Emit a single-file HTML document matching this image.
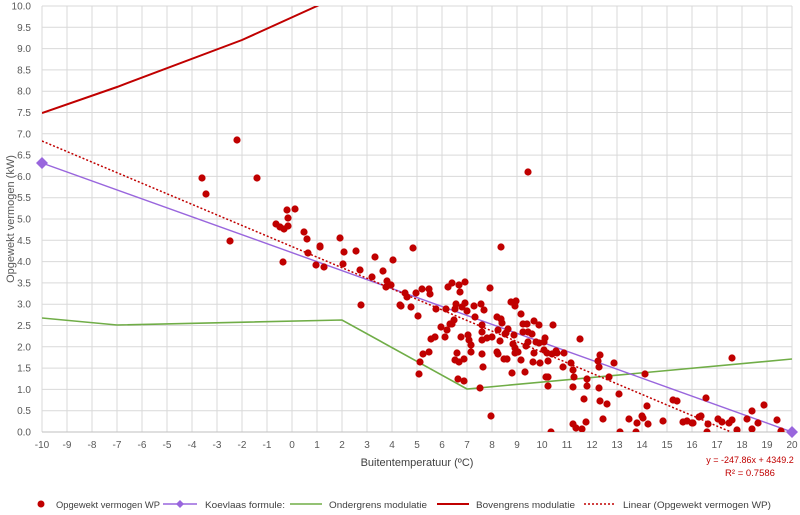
<!DOCTYPE html>
<html><head><style>body{margin:0;background:#fff}svg{display:block;font-family:"Liberation Sans",sans-serif}</style></head><body>
<svg width="800" height="515" xmlns="http://www.w3.org/2000/svg">
<defs><clipPath id="c"><rect x="42" y="6" width="750" height="426"/></clipPath></defs>
<g id="grid" stroke="#d9d9d9" stroke-width="1"></g>
<g id="labels" font-size="10" fill="#595959"></g>
<text x="14" y="219" font-size="11" fill="#595959" text-anchor="middle" transform="rotate(-90 14 219)">Opgewekt vermogen (kW)</text>
<text x="417" y="466" font-size="11" fill="#404040" text-anchor="middle">Buitentemperatuur (ºC)</text>
<text x="750" y="463" font-size="9" fill="#c00000" text-anchor="middle">y = -247.86x + 4349.2</text>
<text x="750" y="476" font-size="9.5" fill="#c00000" text-anchor="middle">R² = 0.7586</text>
<g clip-path="url(#c)">
<polyline points="42,113 117,87 242,40 317,6 330,0" fill="none" stroke="#c00000" stroke-width="2"/>
<polyline points="42,318 117,325 342,320 467,389 792,359" fill="none" stroke="#70ad47" stroke-width="1.6"/>
<line x1="42" y1="163" x2="792" y2="432" stroke="#9966dd" stroke-width="1.4"/>
<line x1="42" y1="141" x2="731" y2="432" stroke="#c00000" stroke-width="1.5" stroke-dasharray="2,2"/>
<g id="pts" fill="#c00000"></g>
</g>
<path d="M42,157 L48,163 L42,169 L36,163Z M792,426 L798,432 L792,438 L786,432Z" fill="#9966dd"/>
<g font-size="9.5" fill="#404040">
<circle cx="41" cy="504" r="3.5" fill="#c00000"/><text x="56" y="508" textLength="104" lengthAdjust="spacingAndGlyphs">Opgewekt vermogen WP</text>
<line x1="163" y1="504" x2="197" y2="504" stroke="#9966dd" stroke-width="1.4"/><path d="M180,500 L184,504 L180,508 L176,504Z" fill="#9966dd"/><text x="205" y="508" textLength="80" lengthAdjust="spacingAndGlyphs">Koevlaas formule:</text>
<line x1="290" y1="504" x2="322" y2="504" stroke="#70ad47" stroke-width="1.6"/><text x="329" y="508" textLength="98" lengthAdjust="spacingAndGlyphs">Ondergrens modulatie</text>
<line x1="437" y1="504" x2="469" y2="504" stroke="#c00000" stroke-width="2"/><text x="476" y="508" textLength="99" lengthAdjust="spacingAndGlyphs">Bovengrens modulatie</text>
<line x1="584" y1="504" x2="616" y2="504" stroke="#c00000" stroke-width="1.5" stroke-dasharray="2,2"/><text x="623" y="508" textLength="148" lengthAdjust="spacingAndGlyphs">Linear (Opgewekt vermogen WP)</text>
</g>
</svg>
<script>
var ns="http://www.w3.org/2000/svg",g=document.getElementById('grid'),l=document.getElementById('labels'),p=document.getElementById('pts');
function el(t,a,par,txt){var e=document.createElementNS(ns,t);for(var k in a)e.setAttribute(k,a[k]);if(txt!=null)e.textContent=txt;par.appendChild(e);}
for(var i=0;i<=30;i++){var x=42+i*25;el('line',{x1:x,y1:6,x2:x,y2:432},g);el('text',{x:x,y:448,'text-anchor':'middle'},l,String(i-10));}
for(var j=0;j<=20;j++){var y=432-j*21.3;el('line',{x1:42,y1:y,x2:792,y2:y},g);el('text',{x:31,y:y+3.5,'text-anchor':'end'},l,(j/2).toFixed(1));}
el('line',{x1:42,y1:432,x2:792,y2:432,stroke:'#bfbfbf'},g);
var P=[[202,178],[206,194],[237,140],[257,178],[230,241],[276,224],[280,227],[284,229],[287,210],[288,218],[288,226],[295,209],[283,262],[304,232],[307,239],[308,253],[320,246],[320,247],[316,265],[324,267],[340,238],[344,252],[343,264],[356,251],[360,270],[361,305],[372,277],[375,257],[383,271],[387,281],[391,285],[386,287],[393,260],[400,305],
[528,172],[413,248],[501,247],[405,293],[407,297],[401,306],[411,307],[416,293],[422,289],[429,289],[430,294],[418,316],[436,309],[446,309],[448,287],[452,283],[459,285],[460,292],[465,282],[456,304],[462,307],[465,303],[467,311],[455,309],[454,320],[452,324],[450,324],[447,330],[445,337],[441,327],[431,339],[435,337],[429,352],[423,354],[420,362],[419,374],[474,306],[475,317],[481,304],[484,310],[490,288],[482,325],[482,332],[482,340],[487,338],[492,337],[482,354],[483,367],[480,388],[491,416],[461,337],[468,335],[469,340],[471,345],[471,352],[457,353],[455,360],[459,362],[464,359],[458,379],[464,381],[497,317],[501,319],[502,323],[498,330],[500,341],[505,334],[506,333],[508,329],[497,352],[498,354],[504,359],[507,359],[511,302],[516,301],[515,306],[521,314],[523,324],[527,324],[523,332],[528,332],[532,334],[528,342],[526,346],[514,335],[513,344],[515,348],[518,352],[515,353],[521,360],[512,373],[525,372],[534,321],[539,325],[536,342],[539,343],[534,353],[533,362],[540,363],[544,342],[545,338],[544,350],[547,353],[548,361],[553,325],[552,354],[556,351],[557,353],[564,353],[563,367],[546,377],[548,377],[548,386],[571,363],[573,370],[574,377],[573,387],[580,339],[584,399],[587,379],[587,386],[600,355],[598,361],[599,367],[599,388],[600,401],[607,404],[609,377],[614,363],[619,394],[603,419],[573,424],[576,428],[582,429],[586,422],[551,432],[620,432],[629,419],[636,432],[637,423],[642,416],[643,418],[647,406],[648,424],[645,374],[663,421],[673,400],[677,401],[683,422],[687,421],[692,423],[693,423],[699,417],[701,416],[706,398],[708,424],[707,432],[718,419],[722,422],[729,423],[732,420],[732,358],[737,430],[747,419],[752,411],[752,429],[758,423],[764,405],[777,420],[781,431]];
P.forEach(function(q){el('circle',{cx:q[0],cy:q[1],r:3.6},p);});
</script>
</body></html>
